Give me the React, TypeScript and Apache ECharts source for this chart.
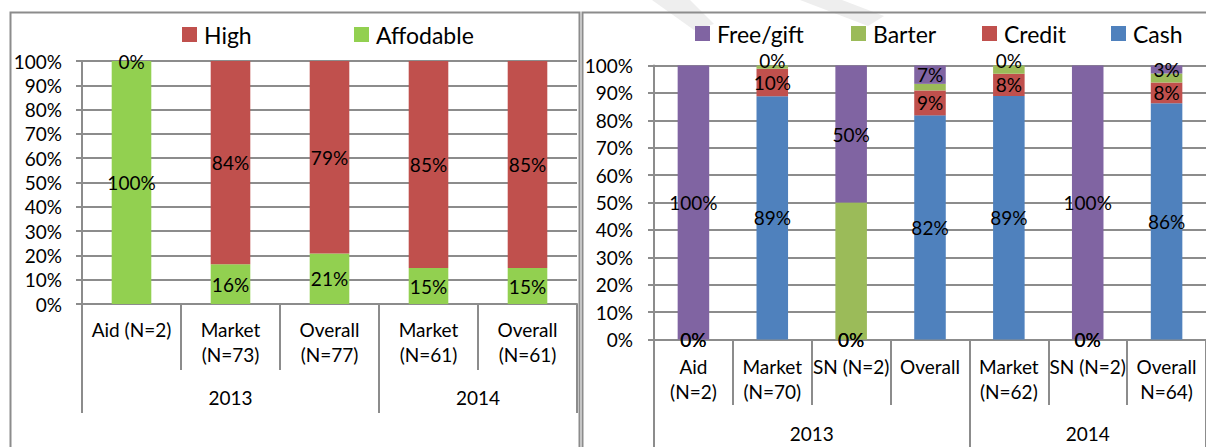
import React, { useEffect, useRef } from 'react';
import * as echarts from 'echarts';

// ---------- data ----------
const leftCategories = ['Aid (N=2)', 'Market\n(N=73)', 'Overall\n(N=77)', 'Market\n(N=61)', 'Overall\n(N=61)'];
const leftYears = ['2013', '2014'];
const leftYearSpans = [3, 2];
const leftAffodable = [100, 16.4, 20.8, 14.8, 14.8];
const leftHigh = [0, 83.6, 79.2, 85.2, 85.2];

const rightCategories = ['Aid\n(N=2)', 'Market\n(N=70)', 'SN (N=2)', 'Overall', 'Market\n(N=62)', 'SN (N=2)', 'Overall\nN=64)'];
const rightYears = ['2013', '2014'];
const rightYearSpans = [4, 3];
const cashValues = [0, 88.8, 0, 81.8, 88.9, 0, 86.2];
const creditValues = [0, 10.0, 0, 9.1, 8.1, 0, 7.6];
const barterValues = [0, 1.2, 50, 2.4, 3.0, 0, 3.3];
const freeGiftValues = [100, 0, 50, 6.7, 0, 100, 2.9];

// ---------- styles ----------
const FONT = 'Lato';
const GRID_COLOR = '#8c8c8c';
const TXT = 19;

const pct = (p: any) => Math.round(p.value) + '%';

function yearAxis(gridIndex: number, spans: number[], years: string[], tickLen: number, margin: number) {
  const total = spans.reduce((a, b) => a + b, 0);
  const bounds: number[] = [0];
  const centers: number[] = [];
  let acc = 0;
  spans.forEach((s) => {
    centers.push(acc + s / 2);
    acc += s;
    bounds.push(acc);
  });
  return {
    type: 'value',
    gridIndex,
    min: 0,
    max: total,
    position: 'bottom',
    axisLine: { show: false },
    splitLine: { show: false },
    axisTick: { show: true, customValues: bounds, length: tickLen, lineStyle: { color: GRID_COLOR, width: 2 } },
    axisLabel: {
      customValues: centers,
      formatter: (v: number) => years[centers.indexOf(v)] ?? '',
      margin,
      fontSize: TXT,
      fontFamily: FONT,
      color: '#000',
      lineHeight: 25,
      verticalAlign: 'top',
    },
  };
}

function catAxis(gridIndex: number, data: string[], tickLen: number, margin: number) {
  return {
    type: 'category',
    gridIndex,
    data,
    position: 'bottom',
    axisLine: { show: true, lineStyle: { color: GRID_COLOR, width: 2 } },
    axisTick: { show: true, interval: 0, length: tickLen, lineStyle: { color: GRID_COLOR, width: 2 } },
    axisLabel: {
      interval: 0,
      margin,
      fontSize: TXT,
      fontFamily: FONT,
      color: '#000',
      lineHeight: 25,
      verticalAlign: 'top',
    },
  };
}

function valAxis(gridIndex: number, margin: number) {
  return {
    type: 'value',
    gridIndex,
    min: 0,
    max: 100,
    interval: 10,
    axisLine: { show: true, lineStyle: { color: GRID_COLOR, width: 2 } },
    axisTick: { show: true, length: 6, lineStyle: { color: GRID_COLOR, width: 2 } },
    splitLine: { show: true, lineStyle: { color: GRID_COLOR, width: 2 } },
    axisLabel: { formatter: '{value}%', margin, fontSize: TXT, fontFamily: FONT, color: '#000' },
  };
}

function legendItem(name: string, left: number, top: number) {
  return {
    data: [name],
    left,
    top,
    orient: 'horizontal',
    icon: 'rect',
    itemWidth: 15,
    itemHeight: 15,
    selectedMode: false,
    padding: 0,
    textStyle: { fontSize: 23, fontFamily: FONT, color: '#000', padding: [0, 0, 0, 2] },
  };
}

function barSeries(name: string, data: number[], color: string, stack: string, xi: number, yi: number, showLabel = true, zeroLift = 0) {
  return {
    type: 'bar',
    name,
    data: data.map((v) => (zeroLift && v === 0 ? { value: v, label: { offset: [0, -zeroLift] } } : v)),
    stack,
    xAxisIndex: xi,
    yAxisIndex: yi,
    barWidth: '40%',
    itemStyle: { color },
    label: {
      show: showLabel,
      position: 'inside',
      formatter: pct,
      fontSize: TXT,
      fontFamily: FONT,
      color: '#000',
    },
  };
}

export default function App() {
  const ref = useRef<HTMLDivElement>(null);
  useEffect(() => {
    document.body.style.margin = '0';
    const chart = echarts.init(ref.current!, undefined, { renderer: 'svg' });
    chart.setOption({
      animation: false,
      backgroundColor: '#fff',
      graphic: [
        { type: 'polygon', z: -10, shape: { points: [[652, 0], [690, 0], [714, 24], [694, 30]] }, style: { fill: '#eeeeee' } },
        { type: 'polygon', z: -10, shape: { points: [[800, 0], [842, 0], [884, 16], [868, 26]] }, style: { fill: '#eeeeee' } },
        { type: 'rect', z: 10, shape: { x: 10.5, y: 12.5, width: 569, height: 460 }, style: { fill: 'none', stroke: '#8c8c8c', lineWidth: 2 } },
        { type: 'rect', z: 10, shape: { x: 582.5, y: 12.5, width: 660, height: 460 }, style: { fill: 'none', stroke: '#8c8c8c', lineWidth: 2 } },
      ],
      legend: [
        legendItem('High', 182, 23),
        legendItem('Affodable', 354, 23),
        legendItem('Free/gift', 695, 22),
        legendItem('Barter', 851, 22),
        legendItem('Credit', 982, 22),
        legendItem('Cash', 1111, 22),
      ],
      grid: [
        { left: 82, top: 61, width: 495, height: 243 },
        { left: 654, top: 65.5, width: 560, height: 274 },
      ],
      xAxis: [
        catAxis(0, leftCategories, 66, 13),
        yearAxis(0, leftYearSpans, leftYears, 109, 81),
        catAxis(1, rightCategories, 65.5, 14),
        yearAxis(1, rightYearSpans, rightYears, 130, 81),
      ],
      yAxis: [valAxis(0, 20), valAxis(1, 21)],
      series: [
        barSeries('Affodable', leftAffodable, '#92D050', 'L', 0, 0),
        barSeries('High', leftHigh, '#C0504D', 'L', 0, 0),
        barSeries('Cash', cashValues, '#4F81BD', 'R', 2, 1),
        barSeries('Credit', creditValues, '#C0504D', 'R', 2, 1),
        barSeries('Barter', barterValues, '#9BBB59', 'R', 2, 1, false),
        barSeries('Free/gift', freeGiftValues, '#8064A2', 'R', 2, 1, true, 5),
      ],
    });
    return () => chart.dispose();
  }, []);
  return (
    <div
      ref={ref}
      style={{ position: 'fixed', left: 0, top: 0, width: 1206, height: 447, background: '#fff' }}
    />
  );
}
